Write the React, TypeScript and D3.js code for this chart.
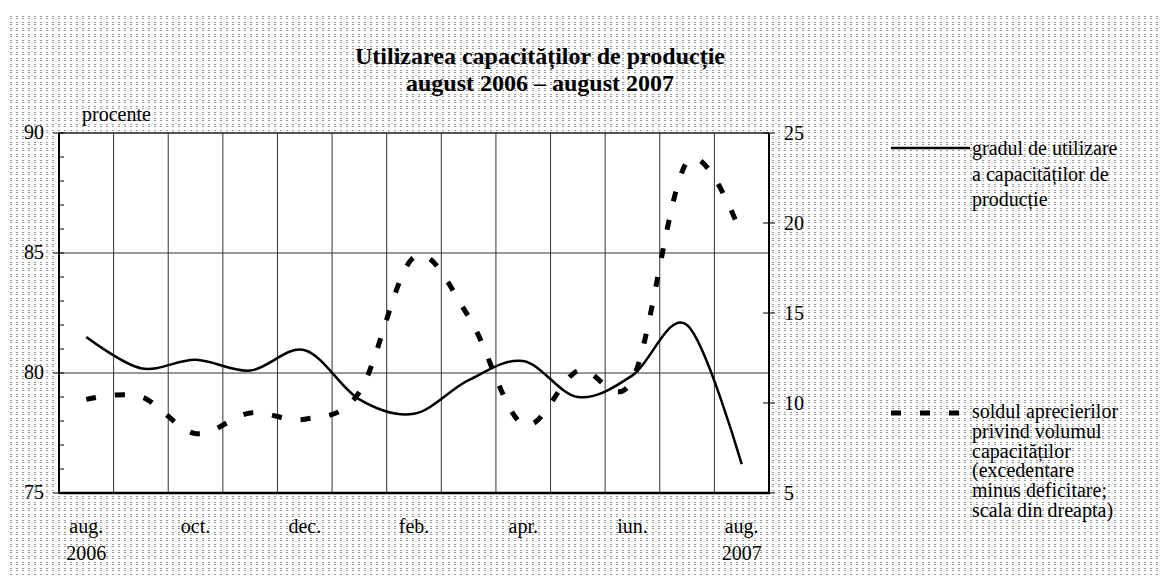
import React from 'react';
import * as d3 from 'd3';

// months aug 2006 - aug 2007
const months = ['2006-08', '2006-09', '2006-10', '2006-11', '2006-12', '2007-01', '2007-02', '2007-03', '2007-04', '2007-05', '2007-06', '2007-07', '2007-08'];
const monthLabels = ['aug.', '', 'oct.', '', 'dec.', '', 'feb.', '', 'apr.', '', 'iun.', '', 'aug.'];
const yearLabels = ['2006', '', '', '', '', '', '', '', '', '', '', '', '2007'];

// gradul de utilizare a capacitatilor (procente, scala stanga)
const utilizare = [81.5, 80.2, 80.55, 80.1, 80.95, 78.9, 78.3, 79.7, 80.5, 79.0, 79.9, 82.0, 76.2];
// soldul aprecierilor privind volumul capacitatilor (scala dreapta)
const sold = [10.2, 10.35, 8.3, 9.45, 9.1, 10.6, 18.1, 14.8, 8.8, 11.8, 11.3, 23.4, 19.3];

const leftTicks = [75, 80, 85, 90];
const leftMinor = d3.range(75, 91);
const rightTicks = [5, 10, 15, 20, 25];

const W = 1165;
const H = 580;
const left = 59;
const right = 769;
const top = 133;
const bottom = 493;
const font = '"Liberation Serif", "Times New Roman", serif';

const App = () => {
  const x = d3.scaleBand().domain(months).range([left, right]);
  const cx = (m) => x(m) + x.bandwidth() / 2;
  const yL = d3.scaleLinear().domain([75, 90]).range([bottom, top]);
  const yR = d3.scaleLinear().domain([5, 25]).range([bottom, top]);

  const curve = d3.curveCardinal.tension(0);
  const lineL = d3.line().x((d, i) => cx(months[i])).y((d) => yL(d)).curve(curve);
  const lineR = d3.line().x((d, i) => cx(months[i])).y((d) => yR(d)).curve(curve);

  return (
    <svg width={W} height={H} style={{ position: 'absolute', left: 0, top: 0 }} fontFamily={font}>
      <defs>
        <pattern id="dots" x={10} y={16} width={6} height={6} patternUnits="userSpaceOnUse">
          <rect x={0} y={0} width={2} height={1} fill="#999" />
          <rect x={0} y={2} width={2} height={1} fill="#999" />
        </pattern>
      </defs>
      <rect width={W} height={H} fill="#fff" />
      <rect x={10} y={16} width={1150} height={560} fill="url(#dots)" />
      <rect x={left} y={top} width={right - left} height={bottom - top} fill="#fff" />

      {/* title */}
      <text x={540} y={64} textAnchor="middle" fontSize={24} fontWeight="bold">Utilizarea capacităților de producție</text>
      <text x={540} y={91} textAnchor="middle" fontSize={24} fontWeight="bold">august 2006 – august 2007</text>

      {/* grid */}
      {months.slice(1).map((m) => (
        <line key={m} x1={x(m)} x2={x(m)} y1={top} y2={bottom} stroke="#333" strokeWidth={1} />
      ))}
      {[80, 85].map((v) => (
        <line key={v} x1={left} x2={right} y1={yL(v)} y2={yL(v)} stroke="#333" strokeWidth={1} />
      ))}

      {/* frame */}
      <line x1={left} x2={right} y1={top} y2={top} stroke="#222" strokeWidth={1.5} />
      <line x1={left} x2={left} y1={top} y2={bottom + 1} stroke="#000" strokeWidth={2} />
      <line x1={right} x2={right} y1={top} y2={bottom + 1} stroke="#000" strokeWidth={2} />
      <line x1={left} x2={right + 1} y1={bottom} y2={bottom} stroke="#000" strokeWidth={2.5} />

      {/* left axis */}
      {leftMinor.map((v) => (
        <line key={'m' + v} x1={left} x2={left + 5} y1={yL(v)} y2={yL(v)} stroke="#000" strokeWidth={1} />
      ))}
      {leftTicks.map((v) => (
        <g key={v}>
          <line x1={left - 6} x2={left} y1={yL(v)} y2={yL(v)} stroke="#000" strokeWidth={1} />
          <text x={44} y={yL(v) + 6} textAnchor="end" fontSize={20}>{v}</text>
        </g>
      ))}
      <text x={82} y={121} fontSize={20}>procente</text>

      {/* right axis */}
      {rightTicks.map((v) => (
        <g key={v}>
          <line x1={right - 6} x2={right + 6} y1={yR(v)} y2={yR(v)} stroke="#000" strokeWidth={1} />
          <text x={784} y={yR(v) + 7} fontSize={20}>{v}</text>
        </g>
      ))}

      {/* x labels */}
      {months.map((m, i) => (
        <g key={m}>
          {monthLabels[i] && <text x={cx(m)} y={533} textAnchor="middle" fontSize={20}>{monthLabels[i]}</text>}
          {yearLabels[i] && <text x={cx(m)} y={560} textAnchor="middle" fontSize={20}>{yearLabels[i]}</text>}
        </g>
      ))}

      {/* series */}
      <path d={lineR(sold)} fill="none" stroke="#000" strokeWidth={5} strokeDasharray="10 19" />
      <path d={lineL(utilizare)} fill="none" stroke="#000" strokeWidth={2.5} />

      {/* legend */}
      <line x1={891} x2={970} y1={148} y2={148} stroke="#000" strokeWidth={2.5} />
      {['gradul de utilizare', 'a capacităților de', 'producție'].map((t, i) => (
        <text key={t} x={972} y={155 + i * 25.5} fontSize={20}>{t}</text>
      ))}
      <line x1={891} x2={961} y1={413} y2={413} stroke="#000" strokeWidth={5} strokeDasharray="10 19" />
      {['soldul aprecierilor', 'privind volumul', 'capacităților', '(excedentare', 'minus deficitare;', 'scala din dreapta)'].map((t, i) => (
        <text key={t} x={972} y={418 + i * 19.8} fontSize={20}>{t}</text>
      ))}
    </svg>
  );
};

export default App;
